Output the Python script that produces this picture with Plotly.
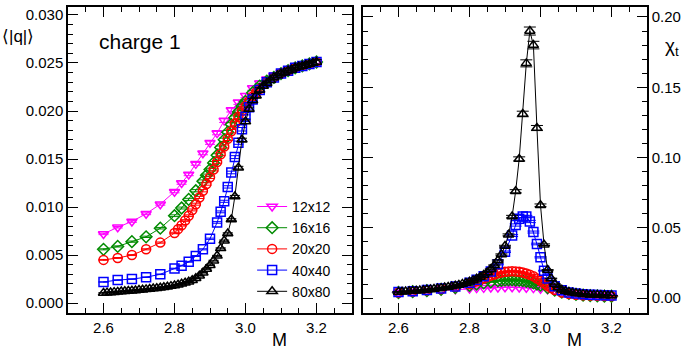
import plotly.graph_objects as go

# M grids per lattice size
m_12 = [2.60, 2.64, 2.68, 2.72, 2.76, 2.80, 2.82, 2.84, 2.86, 2.88, 2.90, 2.92, 2.94, 2.96, 2.98,
        3.00, 3.02, 3.04, 3.06, 3.08, 3.10, 3.12, 3.14, 3.16, 3.18, 3.20]
m_16 = [2.60, 2.64, 2.68, 2.72, 2.76, 2.80, 2.82, 2.84, 2.86, 2.88, 2.89, 2.90, 2.91, 2.92, 2.93,
        2.94, 2.95, 2.96, 2.97, 2.98, 2.99, 3.00, 3.02, 3.04, 3.06, 3.08, 3.10, 3.12, 3.14, 3.16,
        3.18, 3.20]
m_20 = [2.60, 2.64, 2.68, 2.72, 2.76, 2.80, 2.81, 2.82, 2.83, 2.84, 2.85, 2.86, 2.87, 2.88, 2.89,
        2.90, 2.91, 2.92, 2.93, 2.94, 2.95, 2.96, 2.97, 2.98, 2.99, 3.00, 3.01, 3.02, 3.03, 3.04,
        3.06, 3.08, 3.10, 3.12, 3.14, 3.16, 3.18, 3.20]
m_40 = [2.60, 2.64, 2.68, 2.72, 2.76, 2.80, 2.82, 2.84, 2.86, 2.88, 2.90, 2.92, 2.93, 2.94, 2.95,
        2.96, 2.97, 2.98, 2.99, 3.00, 3.01, 3.02, 3.04, 3.06, 3.08, 3.10, 3.12, 3.14, 3.16, 3.18,
        3.20]
m_80 = [2.60, 2.61, 2.62, 2.63, 2.64, 2.65, 2.66, 2.67, 2.68, 2.69, 2.70, 2.71, 2.72, 2.73, 2.74,
        2.75, 2.76, 2.77, 2.78, 2.79, 2.80, 2.81, 2.82, 2.83, 2.84, 2.85, 2.86, 2.87, 2.88, 2.89,
        2.90, 2.91, 2.92, 2.93, 2.94, 2.95, 2.96, 2.97, 2.98, 2.99, 3.00, 3.01, 3.02, 3.03, 3.04,
        3.05, 3.06, 3.07, 3.08, 3.09, 3.10, 3.11, 3.12, 3.13, 3.14, 3.15, 3.16, 3.17, 3.18, 3.19,
        3.20]

# <|q|> (left panel)
q_12 = [0.0072, 0.0079, 0.0085, 0.0093, 0.0103, 0.0116, 0.0125, 0.0134, 0.0145, 0.0156, 0.0167,
        0.0177, 0.0190, 0.0201, 0.0209, 0.0216, 0.0224, 0.0229, 0.0233, 0.0237, 0.0240, 0.0243,
        0.0246, 0.0248, 0.0250, 0.0251]
q_16 = [0.0056, 0.0059, 0.0064, 0.0069, 0.0078, 0.0091, 0.0099, 0.0108, 0.0117, 0.0127, 0.0133,
        0.0139, 0.0146, 0.0154, 0.0162, 0.0170, 0.0178, 0.0186, 0.0193, 0.0199, 0.0205, 0.0210,
        0.0219, 0.0226, 0.0231, 0.0235, 0.0239, 0.0242, 0.0245, 0.0247, 0.0249, 0.0251]
q_20 = [0.0045, 0.0047, 0.0050, 0.0056, 0.0063, 0.0073, 0.0077, 0.0081, 0.0086, 0.0091, 0.0097,
        0.0103, 0.0110, 0.0117, 0.0124, 0.0131, 0.0139, 0.0147, 0.0155, 0.0163, 0.0171, 0.0179,
        0.0187, 0.0194, 0.0200, 0.0205, 0.0210, 0.0215, 0.0219, 0.0223, 0.0230, 0.0235, 0.0239,
        0.0242, 0.0245, 0.0247, 0.0249, 0.0251]
q_40 = [0.0022, 0.0024, 0.0025, 0.0027, 0.0030, 0.0036, 0.0039, 0.0043, 0.0049, 0.0056, 0.0067,
        0.0084, 0.0095, 0.0106, 0.0121, 0.0136, 0.0152, 0.0167, 0.0181, 0.0194, 0.0204, 0.0212,
        0.0222, 0.0230, 0.0235, 0.0239, 0.0242, 0.0245, 0.0247, 0.0249, 0.0251]
q_80 = [0.00106, 0.00109, 0.00111, 0.00114, 0.00117, 0.00120, 0.00123, 0.00126, 0.00129, 0.00132,
        0.00136, 0.00139, 0.00143, 0.00147, 0.00151, 0.00155, 0.00160, 0.00165, 0.00171, 0.00177,
        0.00184, 0.00192, 0.00201, 0.00211, 0.00223, 0.00238, 0.00258, 0.00284, 0.00316, 0.00355,
        0.00395, 0.00442, 0.00492, 0.00570, 0.00650, 0.00725, 0.00870, 0.0111, 0.0141, 0.0170,
        0.0189, 0.0202, 0.0211, 0.0216, 0.0222, 0.0226, 0.0229, 0.0232, 0.0235, 0.0237, 0.0239,
        0.0240, 0.0242, 0.0243, 0.0245, 0.0246, 0.0247, 0.0248, 0.0249, 0.0250, 0.0251]

# chi_t (right panel)
chi_12 = [0.0040, 0.0045, 0.0050, 0.0056, 0.0062, 0.0068, 0.0071, 0.0073, 0.0075, 0.0076, 0.0077,
          0.0077, 0.0076, 0.0074, 0.0071, 0.0067, 0.0062, 0.0057, 0.0050, 0.0042, 0.0035, 0.0028,
          0.0023, 0.0019, 0.0016, 0.0014]
chi_16 = [0.0040, 0.0046, 0.0053, 0.0062, 0.0075, 0.0090, 0.0099, 0.0108, 0.0116, 0.0123, 0.0126,
          0.0128, 0.0130, 0.0130, 0.0129, 0.0127, 0.0124, 0.0120, 0.0115, 0.0108, 0.0100, 0.0092,
          0.0074, 0.0057, 0.0043, 0.0033, 0.0026, 0.0021, 0.0018, 0.0016, 0.0014, 0.0013]
chi_20 = [0.0040, 0.0047, 0.0055, 0.0065, 0.0080, 0.0100, 0.0110, 0.0120, 0.0130, 0.0140, 0.0150,
          0.0160, 0.0168, 0.0176, 0.0182, 0.0187, 0.0190, 0.0191, 0.0190, 0.0187, 0.0182, 0.0175,
          0.0166, 0.0155, 0.0140, 0.0123, 0.0105, 0.0088, 0.0072, 0.0058, 0.0040, 0.0030, 0.0024,
          0.0020, 0.0018, 0.0016, 0.0015, 0.0014]
chi_40 = [0.0043, 0.0049, 0.0057, 0.0068, 0.0083, 0.0110, 0.0130, 0.0155, 0.0190, 0.0240, 0.0330,
          0.0445, 0.0520, 0.0565, 0.0580, 0.0580, 0.0545, 0.0470, 0.0385, 0.0290, 0.0195, 0.0140,
          0.0085, 0.0055, 0.0040, 0.0032, 0.0027, 0.0024, 0.0022, 0.0020, 0.0019]
chi_80 = [0.0044, 0.0045, 0.0047, 0.0048, 0.0050, 0.0052, 0.0054, 0.0056, 0.0059, 0.0062, 0.0065,
          0.0068, 0.0071, 0.0075, 0.0079, 0.0083, 0.0088, 0.0094, 0.0101, 0.0108, 0.0116, 0.0126,
          0.0137, 0.0150, 0.0165, 0.0183, 0.0205, 0.0233, 0.0268, 0.0310, 0.0370, 0.0450, 0.0580,
          0.0760, 0.0990, 0.1310, 0.1670, 0.1900, 0.1800, 0.1210, 0.0660, 0.0380, 0.0200, 0.0140,
          0.0100, 0.0075, 0.0060, 0.0050, 0.0043, 0.0038, 0.0034, 0.0031, 0.0028, 0.0026, 0.0024,
          0.0023, 0.0022, 0.0021, 0.0020, 0.0019, 0.0018]

sizes = ["12x12", "16x16", "20x20", "40x40", "80x80"]
colors = ["#ff00ff", "#008b00", "#ff0000", "#0000ff", "#000000"]
symbols = ["triangle-down-open", "diamond-open", "circle-open", "square-open", "triangle-up-open"]
ms = [m_12, m_16, m_20, m_40, m_80]
qs = [q_12, q_16, q_20, q_40, q_80]
chis = [chi_12, chi_16, chi_20, chi_40, chi_80]

FONT = "Liberation Sans, Arial, sans-serif"

fig = go.Figure()
for i in range(5):
    style = dict(
        mode="lines+markers",
        line=dict(color=colors[i], width=1),
        marker=dict(symbol=symbols[i], size=9, color=colors[i], line=dict(width=1.5, color=colors[i])),
    )
    fig.add_trace(go.Scatter(
        x=ms[i], y=qs[i], name=sizes[i], xaxis="x", yaxis="y",
        error_y=dict(type="percent", value=1, width=5, thickness=1, color=colors[i]),
        **style))
    fig.add_trace(go.Scatter(
        x=ms[i], y=chis[i], name=sizes[i], xaxis="x2", yaxis="y2", showlegend=False,
        error_y=dict(type="percent", value=1.5, width=6, thickness=1, color=colors[i]),
        **style))

axis_common = dict(
    showline=True, linecolor="black", linewidth=1.5, mirror="ticks",
    ticks="inside", ticklen=10, tickwidth=1.2, tickcolor="black",
    showgrid=False, zeroline=False,
    tickfont=dict(family=FONT, size=15, color="black"),
)
xtick = dict(range=[2.5, 3.3], tickvals=[2.6, 2.8, 3.0, 3.2], ticktext=["2.6", "2.8", "3.0", "3.2"],
             minor=dict(dtick=0.05, tick0=2.5, ticks="inside", ticklen=5, tickcolor="black"))

fig.update_layout(
    width=687, height=350,
    margin=dict(l=68, r=40, t=5, b=37),
    paper_bgcolor="white", plot_bgcolor="white",
    font=dict(family=FONT, size=15, color="black"),
    xaxis=dict(domain=[0, 0.4905], anchor="y", **xtick, **axis_common),
    yaxis=dict(domain=[0, 1], anchor="x", range=[-0.00103, 0.03083],
               tickvals=[0, 0.005, 0.01, 0.015, 0.02, 0.025, 0.03],
               ticktext=["0.000", "0.005", "0.010", "0.015", "0.020", "0.025", "0.030"],
               minor=dict(dtick=0.001, tick0=0, ticks="inside", ticklen=5, tickcolor="black"),
               **axis_common),
    xaxis2=dict(domain=[0.5095, 1], anchor="y2", **xtick, **axis_common),
    yaxis2=dict(domain=[0, 1], anchor="x2", side="right", range=[-0.0106, 0.2071],
                tickvals=[0, 0.05, 0.1, 0.15, 0.2],
                ticktext=["0.00", "0.05", "0.10", "0.15", "0.20"],
                minor=dict(dtick=0.01, tick0=0, ticks="inside", ticklen=5, tickcolor="black"),
                **axis_common),
    legend=dict(x=0.318, y=0.399, xanchor="left", yanchor="top", bgcolor="rgba(0,0,0,0)",
                font=dict(family=FONT, size=14), tracegroupgap=0, itemwidth=30),
    showlegend=True,
)

fig.add_annotation(text="M", xref="x domain", yref="y domain", x=0.746, y=-0.088,
                   showarrow=False, font=dict(size=18), xanchor="center", yanchor="middle")
fig.add_annotation(text="M", xref="x2 domain", yref="y2 domain", x=0.746, y=-0.088,
                   showarrow=False, font=dict(size=18), xanchor="center", yanchor="middle")
fig.add_annotation(text="⟨|q|⟩", xref="paper", yref="paper", x=-0.086, y=0.9026,
                   showarrow=False, font=dict(size=17), xanchor="center", yanchor="middle")
fig.add_annotation(text="χ<sub>t</sub>", xref="paper", yref="paper", x=1.043, y=0.870,
                   showarrow=False, font=dict(size=19), xanchor="center", yanchor="middle")
fig.add_annotation(text="charge 1", xref="x domain", yref="y domain", x=0.102, y=0.886,
                   showarrow=False, font=dict(size=21), xanchor="left", yanchor="middle")

# drop the default 8px page margin so the figure sits at the window's top-left corner
fig.write_html("out.html", config={"displayModeBar": False},
               post_script="document.body.style.margin='0';")
